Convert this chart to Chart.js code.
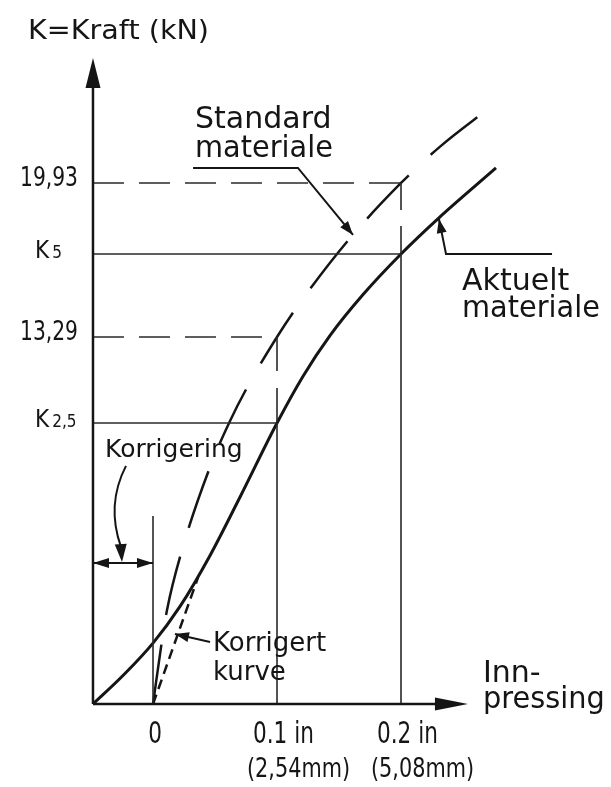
<!DOCTYPE html>
<html>
<head>
<meta charset="utf-8">
<title>Kraft / Innpressing</title>
<script src="https://cdn.jsdelivr.net/npm/chart.js@4/dist/chart.umd.min.js"></script>
<style>
    html, body { margin: 0; padding: 0; background: #fff; }
    canvas { display: block; }
</style>
</head>
<body>
<canvas id="cbrChart" width="611" height="787"></canvas>
<script>
// Penetration (inch) against force (kN)
const aktueltX = [-0.0484, -0.0242, 0, 0.0218, 0.046, 0.0702, 0.1, 0.121, 0.1427, 0.1694, 0.2, 0.2306, 0.2766];
const aktueltY = [-2.54, -1.31, 0.09, 1.67, 3.87, 6.39, 9.58, 11.60, 13.35, 15.12, 16.87, 18.43, 20.58];

const standardX = [0, 0.0073, 0.0113, 0.0234, 0.046, 0.0621, 0.0774, 0.1, 0.117, 0.1573, 0.2, 0.2315, 0.2734];
const standardY = [-2.54, 0.22, 1.52, 4.10, 7.68, 9.67, 11.26, 13.29, 14.65, 17.45, 19.93, 21.50, 23.25];

const korrigertX = [0, 0.0363];
const korrigertY = [-2.54, 2.92];

// Readings at 0.1 in and 0.2 in
const readX = [0.1, 0.2];
const standardAt = [13.29, 19.93];
const actualAt = [9.58, 16.87];
const kSubscripts = ['2,5', '5'];
const tickLabels = ['0', '0.1 in', '0.2 in'];
const mmLabels = ['', '(2,54mm)', '(5,08mm)'];
const tickValues = [0, 0.1, 0.2];

// Axis origin and ends (drawing is not to scale below zero)
const ORIGIN_X = -0.0484;
const ORIGIN_Y = -2.54;
const AXIS_X_END = 0.254;
const AXIS_Y_END = 25.32;
const ZERO_LINE_TOP = 5.57;
const DIM_LINE_Y = 3.54;

const INK = '#151515';
const TEXT_FONT = '"DejaVu Sans", sans-serif';
const verticalDash = [[34, 17], [27, 16]];

function pts(xs, ys) {
    return xs.map((x, i) => ({ x: x, y: ys[i] }));
}

function refLine(points, dash) {
    return {
        data: points,
        borderColor: '#2a2a2a',
        borderWidth: 1.6,
        borderDash: dash || [],
        pointRadius: 0,
        tension: 0,
        fill: false
    };
}

const datasets = [];

readX.forEach((rx, i) => {
    datasets.push(refLine([{ x: ORIGIN_X, y: standardAt[i] }, { x: rx, y: standardAt[i] }], [31, 15]));
    datasets.push(refLine([{ x: rx, y: standardAt[i] }, { x: rx, y: actualAt[i] }], verticalDash[i]));
    datasets.push(refLine([{ x: ORIGIN_X, y: actualAt[i] }, { x: rx, y: actualAt[i] }]));
    datasets.push(refLine([{ x: rx, y: actualAt[i] }, { x: rx, y: ORIGIN_Y }]));
});
datasets.push(refLine([{ x: 0, y: ORIGIN_Y }, { x: 0, y: ZERO_LINE_TOP }]));

datasets.push({
    label: 'Aktuelt materiale',
    data: pts(aktueltX, aktueltY),
    borderColor: INK,
    borderWidth: 3,
    pointRadius: 0,
    cubicInterpolationMode: 'monotone',
    fill: false
});
datasets.push({
    label: 'Standard materiale',
    data: pts(standardX, standardY),
    borderColor: INK,
    borderWidth: 2.5,
    borderDash: [60, 30],
    pointRadius: 0,
    cubicInterpolationMode: 'monotone',
    fill: false
});
datasets.push({
    label: 'Korrigert kurve',
    data: pts(korrigertX, korrigertY),
    borderColor: INK,
    borderWidth: 2.5,
    borderDash: [10, 6],
    pointRadius: 0,
    tension: 0,
    fill: false
});

// Free text, placed in data units (left edge, baseline)
const textNotes = [
    { text: 'K=Kraft (kN)', x: -0.1008, y: 26.14, size: 27, sx: 1.06 },
    { text: 'Standard', x: 0.0339, y: 22.30, size: 30 },
    { text: 'materiale', x: 0.0339, y: 21.05, size: 30, sx: 0.96 },
    { text: 'Aktuelt', x: 0.2492, y: 15.32, size: 30 },
    { text: 'materiale', x: 0.2492, y: 14.15, size: 30, sx: 0.96 },
    { text: 'Korrigering', x: -0.0387, y: 8.12, size: 25 },
    { text: 'Korrigert', x: 0.0484, y: -0.25, size: 26 },
    { text: 'kurve', x: 0.0484, y: -1.50, size: 26 },
    { text: 'Inn-', x: 0.2661, y: -1.59, size: 30 },
    { text: 'pressing', x: 0.2661, y: -2.71, size: 30, sx: 0.96 }
];

// Leader lines, last point is the arrow tip
const leaders = [
    [[0.0323, 20.58], [0.1169, 20.58], [0.1613, 17.69]],
    [[0.3218, 16.87], [0.2363, 16.87], [0.2306, 18.38]],
    [[0.046, 0.14], [0.0177, 0.48]]
];

function label(ctx, str, x, y, size, opts) {
    opts = opts || {};
    ctx.save();
    ctx.font = size + 'px ' + (opts.family || TEXT_FONT);
    ctx.textAlign = 'left';
    ctx.textBaseline = 'alphabetic';
    const sx = opts.sx || 1;
    const w = ctx.measureText(str).width * sx;
    let left = x;
    if (opts.align === 'right') left = x - w;
    else if (opts.align === 'center') left = x - w / 2;
    ctx.translate(left, y);
    ctx.scale(sx, 1);
    ctx.fillText(str, 0, 0);
    ctx.restore();
    return left + w;
}

function arrowHead(ctx, tipX, tipY, fromX, fromY, len, half) {
    const a = Math.atan2(tipY - fromY, tipX - fromX);
    const bx = tipX - len * Math.cos(a);
    const by = tipY - len * Math.sin(a);
    ctx.beginPath();
    ctx.moveTo(tipX, tipY);
    ctx.lineTo(bx + half * Math.sin(a), by - half * Math.cos(a));
    ctx.lineTo(bx - half * Math.sin(a), by + half * Math.cos(a));
    ctx.closePath();
    ctx.fill();
}

const drawingPlugin = {
    id: 'cbrDrawing',
    beforeDraw(chart) {
        const ctx = chart.ctx;
        ctx.save();
        ctx.fillStyle = '#fff';
        ctx.fillRect(0, 0, chart.width, chart.height);
        ctx.restore();
    },
    afterDatasetsDraw(chart) {
        const ctx = chart.ctx;
        const px = v => chart.scales.x.getPixelForValue(v);
        const py = v => chart.scales.y.getPixelForValue(v);
        const ox = px(ORIGIN_X), oy = py(ORIGIN_Y);

        ctx.save();
        ctx.strokeStyle = INK;
        ctx.fillStyle = INK;
        ctx.setLineDash([]);
        ctx.lineCap = 'butt';

        // axes with arrows
        ctx.lineWidth = 2.5;
        ctx.beginPath();
        ctx.moveTo(ox, oy);
        ctx.lineTo(ox, py(AXIS_Y_END) + 20);
        ctx.moveTo(ox, oy);
        ctx.lineTo(px(AXIS_X_END) - 20, oy);
        ctx.stroke();
        arrowHead(ctx, ox, py(AXIS_Y_END), ox, oy, 30, 7.5);
        arrowHead(ctx, px(AXIS_X_END), oy, ox, oy, 33, 6.5);

        // leaders
        ctx.lineWidth = 2;
        leaders.forEach(line => {
            ctx.beginPath();
            line.forEach((p, i) => {
                if (i === 0) ctx.moveTo(px(p[0]), py(p[1]));
                else ctx.lineTo(px(p[0]), py(p[1]));
            });
            ctx.stroke();
            const tip = line[line.length - 1];
            const prev = line[line.length - 2];
            arrowHead(ctx, px(tip[0]), py(tip[1]), px(prev[0]), py(prev[1]), 14, 5);
        });

        // correction dimension
        const dy = py(DIM_LINE_Y);
        ctx.beginPath();
        ctx.moveTo(ox, dy);
        ctx.lineTo(px(0), dy);
        ctx.stroke();
        arrowHead(ctx, ox, dy, px(0), dy, 16, 5);
        arrowHead(ctx, px(0), dy, ox, dy, 16, 5);

        // curved leader from "Korrigering"
        ctx.beginPath();
        ctx.moveTo(px(-0.0218), py(7.73));
        ctx.quadraticCurveTo(px(-0.0379), py(6.05), px(-0.0258), py(4.23));
        ctx.stroke();
        arrowHead(ctx, px(-0.025), dy - 1, px(-0.0262), py(4.5), 18, 6);

        // y labels
        standardAt.forEach(v => {
            label(ctx, v.toFixed(2).replace('.', ','), ox - 15, py(v) + 3, 27, { align: 'right', sx: 0.75 });
        });
        actualAt.forEach((v, i) => {
            const end = label(ctx, 'K', ox - 58, py(v) + 4, 24, { sx: 0.9 });
            label(ctx, kSubscripts[i], end + 3, py(v) + 4, 17, { sx: 0.9 });
        });

        // x labels
        tickValues.forEach((t, i) => {
            if (t === 0) {
                label(ctx, tickLabels[i], px(t) + 2, oy + 39, 30, { align: 'center', sx: 0.72 });
            } else {
                label(ctx, tickLabels[i], px(t) - 24, oy + 39, 30, { sx: 0.72 });
                label(ctx, mmLabels[i], px(t) - 30, oy + 73, 26, { sx: 0.8 });
            }
        });

        textNotes.forEach(n => {
            label(ctx, n.text, px(n.x), py(n.y), n.size, { sx: n.sx });
        });

        ctx.restore();
    }
};

new Chart(document.getElementById('cbrChart'), {
    type: 'line',
    data: { datasets: datasets },
    options: {
        responsive: false,
        animation: false,
        devicePixelRatio: 1,
        layout: { padding: 0 },
        plugins: {
            legend: { display: false },
            tooltip: { enabled: false }
        },
        scales: {
            x: { type: 'linear', min: -0.12339, max: 0.36935, display: false },
            y: { type: 'linear', min: -6.116, max: 27.821, display: false }
        }
    },
    plugins: [drawingPlugin]
});
</script>
</body>
</html>
